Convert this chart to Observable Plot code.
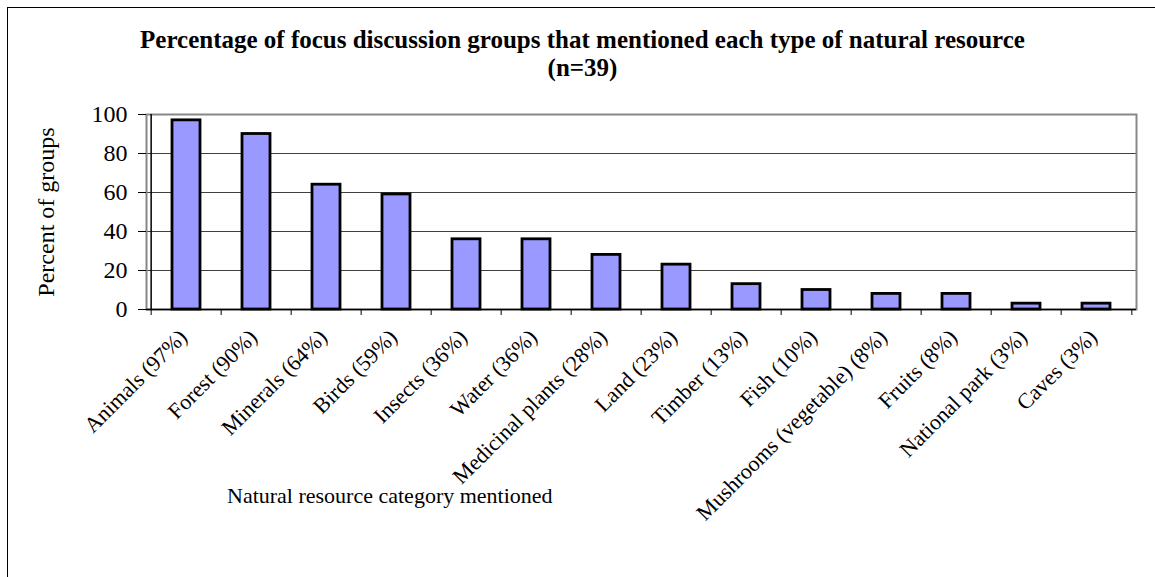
<!DOCTYPE html>
<html>
<head>
<meta charset="utf-8">
<script src="https://cdn.jsdelivr.net/npm/d3@7"></script>
<script src="https://cdn.jsdelivr.net/npm/@observablehq/plot@0.6"></script>
<style>
  html, body { margin: 0; padding: 0; background: #fff; overflow: hidden; }
  #fig { position: relative; width: 1155px; height: 577px; font-family: "Liberation Serif", "Times New Roman", serif; color: #000; }
  #border { position: absolute; left: 7px; top: 7px; width: 1400px; height: 800px; border-left: 1px solid #000; border-top: 1px solid #000; }
  #title { position: relative; height: 90px; box-sizing: border-box; padding-top: 26px; padding-left: 10px; text-align: center; font-weight: bold; font-size: 25px; line-height: 28px; }
  #xlabel { position: absolute; left: 227px; top: 485px; font-size: 22px; line-height: 22px; white-space: nowrap; }
</style>
</head>
<body>
<div id="fig">
  <div id="border"></div>
  <div id="title">Percentage of focus discussion groups that mentioned each type of natural resource<br>(n=39)</div>
  <div id="chart"></div>
  <div id="xlabel">Natural resource category mentioned</div>
</div>
<script>
const categories = ["Animals (97%)", "Forest (90%)", "Minerals (64%)", "Birds (59%)", "Insects (36%)", "Water (36%)", "Medicinal plants (28%)", "Land (23%)", "Timber (13%)", "Fish (10%)", "Mushrooms (vegetable) (8%)", "Fruits (8%)", "National park (3%)", "Caves (3%)"];
const values = [97, 90, 64, 59, 36, 36, 28, 23, 13, 10, 8, 8, 3, 3];
const yTicks = [0, 20, 40, 60, 80, 100];
const yLabel = "Percent of groups";

const data = categories.map((c, i) => ({category: c, value: values[i]}));

const W = 1155, H = 487;
const mL = 146, mR = 19, mT = 24, mB = 268;
const step = (W - mL - mR) / categories.length;

const chart = Plot.plot({
  width: W,
  height: H,
  marginLeft: mL,
  marginRight: mR,
  marginTop: mT,
  marginBottom: mB,
  style: {fontFamily: "'Liberation Serif', 'Times New Roman', serif", fontSize: "22px", color: "#000", background: "transparent", overflow: "visible"},
  x: {domain: categories, paddingInner: 0.6, paddingOuter: 0.3},
  y: {domain: [0, 100]},
  marks: [
    Plot.gridY(yTicks.filter(t => t > 0 && t < 100), {stroke: "#404040", strokeOpacity: 1, strokeWidth: 1}),
    Plot.frame({stroke: "#888", strokeWidth: 2}),
    Plot.barY(data, {x: "category", y: "value", fill: "#9999ff", stroke: "#000", strokeWidth: 2.8}),
    Plot.ruleY([0], {stroke: "#000", strokeWidth: 1.5}),
    Plot.ruleX([categories[0]], {y1: 0, y2: 100, dx: -step / 2, stroke: "#000", strokeWidth: 1.5}),
    Plot.axisY({ticks: yTicks, tickSize: 8, tickPadding: 11, fontSize: 24, tickFormat: d => String(d), label: yLabel, labelAnchor: "center", labelArrow: "none", labelOffset: 110}),
    Plot.axisX({tickSize: 6, tickFormat: () => "", dx: -step / 2, label: null}),
    Plot.axisX({ticks: [categories[categories.length - 1]], tickSize: 6, tickFormat: () => "", dx: step / 2, label: null}),
    Plot.axisX({tickSize: 0, tickPadding: 24, dx: -3, tickRotate: -45, label: null})
  ]
});
document.getElementById("chart").appendChild(chart);
</script>
</body>
</html>
